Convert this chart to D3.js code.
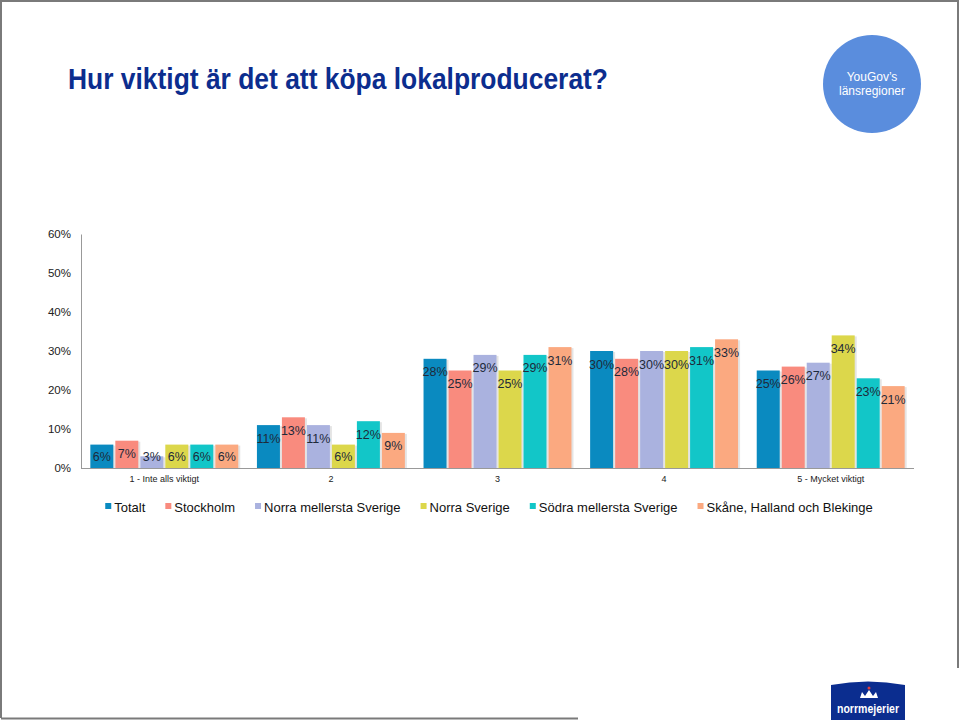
<!DOCTYPE html>
<html><head><meta charset="utf-8">
<script src="https://cdn.jsdelivr.net/npm/d3@7"></script>
<style>body{margin:0;background:#fff}svg{display:block}</style>
</head><body>
<script>
const categories = ["1 - Inte alls viktigt", "2", "3", "4", "5 - Mycket viktigt"];
const seriesNames = ["Totalt", "Stockholm", "Norra mellersta Sverige", "Norra Sverige", "Södra mellersta Sverige", "Skåne, Halland och Blekinge"];
const totalt = [6, 11, 28, 30, 25];
const stockholm = [7, 13, 25, 28, 26];
const norraMellersta = [3, 11, 29, 30, 27];
const norraSverige = [6, 6, 25, 30, 34];
const sodraMellersta = [6, 12, 29, 31, 23];
const skane = [6, 9, 31, 33, 21];
const seriesColors = ["#0a8ac0", "#f98b7e", "#aab2df", "#dcd74b", "#12c6c8", "#fba980"];
const yTicks = [0, 10, 20, 30, 40, 50, 60];

const seriesValues = [totalt, stockholm, norraMellersta, norraSverige, sodraMellersta, skane];

const W = 960, H = 720;
const svg = d3.select("body").append("svg").attr("width", W).attr("height", H);
const font = "'Liberation Sans', Arial, sans-serif";

// frame
svg.append("path").attr("d", "M1,718 V1 H958 V668").attr("fill", "none").attr("stroke", "#7a7a7a").attr("stroke-width", 2);
svg.append("line").attr("x1", 1).attr("x2", 578).attr("y1", 718.5).attr("y2", 718.5).attr("stroke", "#7a7a7a").attr("stroke-width", 2);

// title
svg.append("text").attr("x", 68).attr("y", 89)
  .attr("font-family", "'Liberation Sans Narrow', 'Arial Narrow', 'Liberation Sans', Arial, sans-serif")
  .attr("font-weight", "bold").attr("font-size", 29).attr("fill", "#0c2d8e")
  .attr("textLength", 540).attr("lengthAdjust", "spacingAndGlyphs")
  .text("Hur viktigt är det att köpa lokalproducerat?");

// YouGov circle
svg.append("circle").attr("cx", 872).attr("cy", 84).attr("r", 49).attr("fill", "#5a8ddd");
svg.append("text").attr("x", 872).attr("y", 81).attr("text-anchor", "middle").attr("font-family", font)
  .attr("font-size", 12).attr("fill", "#fff").text("YouGov’s");
svg.append("text").attr("x", 872).attr("y", 95).attr("text-anchor", "middle").attr("font-family", font)
  .attr("font-size", 12).attr("fill", "#fff").text("länsregioner");

// scales
const y = d3.scaleLinear().domain([0, 60]).range([468, 234]);
const x0 = d3.scaleBand().domain(categories).range([81, 914]).paddingInner(0.112).paddingOuter(0.056);
const x1 = d3.scaleBand().domain(seriesNames).range([0, x0.bandwidth()]).paddingInner(0.08).paddingOuter(0);

// y axis
const yAxis = d3.axisLeft(y).tickValues(yTicks).tickSize(0).tickPadding(10).tickFormat(d => d + "%");
const gy = svg.append("g").attr("transform", "translate(81,0)").call(yAxis);
gy.select(".domain").attr("stroke", "#999");
gy.selectAll("text").attr("font-family", font).attr("font-size", 11.5).attr("fill", "#222");

// x axis
const xAxis = d3.axisBottom(x0).tickSize(0).tickPadding(8);
const gx = svg.append("g").attr("transform", "translate(0,468)").call(xAxis);
gx.select(".domain").attr("stroke", "#999").attr("d", "M81,0.5H914");
gx.selectAll("text").attr("font-family", font).attr("font-size", 9).attr("fill", "#222");

// bars
const data = [];
categories.forEach((c, ci) => {
  seriesNames.forEach((s, si) => {
    data.push({ cat: c, ser: s, si: si, v: seriesValues[si][ci] });
  });
});

const g = svg.append("g");
g.selectAll("rect.shadow").data(data).join("rect").attr("class", "shadow")
  .attr("x", d => x0(d.cat) + x1(d.ser) + 2)
  .attr("y", d => y(d.v) + 1)
  .attr("width", x1.bandwidth())
  .attr("height", d => y(0) - y(d.v) - 1)
  .attr("fill", "#e4e4e4");
g.selectAll("rect.bar").data(data).join("rect").attr("class", "bar")
  .attr("x", d => x0(d.cat) + x1(d.ser))
  .attr("y", d => y(d.v))
  .attr("width", x1.bandwidth())
  .attr("height", d => y(0) - y(d.v))
  .attr("fill", d => seriesColors[d.si]);
g.selectAll("text.lbl").data(data).join("text").attr("class", "lbl")
  .attr("x", d => x0(d.cat) + x1(d.ser) + x1.bandwidth() / 2)
  .attr("y", d => Math.min(y(d.v) + 13, y(0) - 12) + 4.5)
  .attr("text-anchor", "middle").attr("font-family", font).attr("font-size", 12.5)
  .attr("fill", "#1e2a3a").text(d => d.v + "%");

// legend
const lg = svg.append("g").attr("transform", "translate(0,507)");
const items = lg.selectAll("g").data(seriesNames).join("g");
items.append("rect").attr("width", 6).attr("height", 6).attr("y", -4).attr("fill", (d, i) => seriesColors[i]);
const texts = items.append("text").attr("x", 9).attr("y", 5).attr("font-family", font).attr("font-size", 13)
  .attr("fill", "#111").text(d => d);
const widths = [];
texts.each(function () { widths.push(this.getComputedTextLength()); });
const gap = 20;
const total = d3.sum(widths) + seriesNames.length * 9 + gap * (seriesNames.length - 1);
let cx = 489 - total / 2;
items.attr("transform", (d, i) => { const t = `translate(${cx},0)`; cx += 9 + widths[i] + gap; return t; });

// logo
const logo = svg.append("g");
logo.append("path").attr("d", "M831,720 V685 Q868,678 905,685 V720 Z").attr("fill", "#0b2d8f");
logo.append("circle").attr("cx", 869).attr("cy", 688).attr("r", 1.5).attr("fill", "#e23b3b");
logo.append("path").attr("d", "M860,698 L862,692 L865,696 L869,690 L873,696 L876,692 L878,698 Z").attr("fill", "#fff");
logo.append("text").attr("x", 868).attr("y", 713).attr("text-anchor", "middle")
  .attr("font-family", "'Liberation Sans Narrow', 'Liberation Sans', Arial, sans-serif").attr("font-weight", "bold")
  .attr("font-size", 12).attr("fill", "#fff").attr("textLength", 62).attr("lengthAdjust", "spacingAndGlyphs").text("norrmejerier");
</script>
</body></html>
